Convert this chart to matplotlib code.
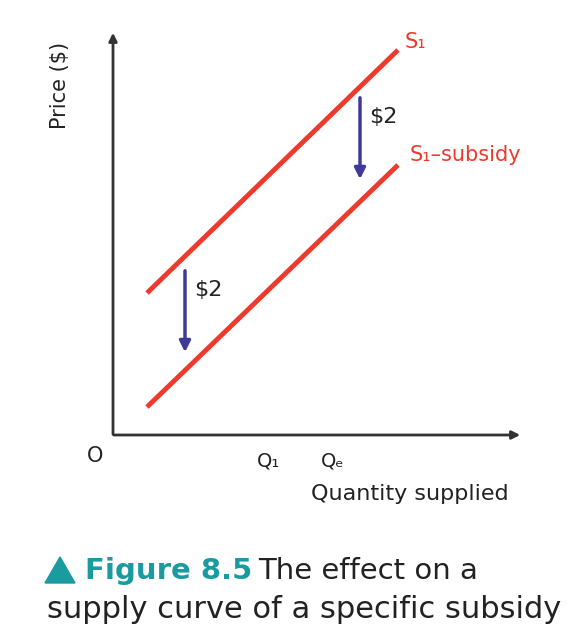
import matplotlib.pyplot as plt
from matplotlib.patches import Polygon

# data in pixel-like units of the original diagram (y grows downwards)
quantity = [147, 398]
supply = [293, 50]
supply_subsidy = [407, 165]
arrow_x = [185, 360]
arrow_top = [268, 95]
arrow_bottom = [355, 182]
subsidy_labels = ["$2", "$2"]

red = "#ee3a2c"
purple = "#3f3a99"
teal = "#1a9ba0"

fig = plt.figure(figsize=(5.77, 6.37), dpi=100)
ax = fig.add_axes([0, 0, 1, 1])
ax.set_xlim(0, 577)
ax.set_ylim(637, 0)
ax.axis("off")

# axes with arrow heads
ax.annotate("", xy=(113, 30), xytext=(113, 437),
            arrowprops=dict(arrowstyle="-|>", color="#333333", lw=2, mutation_scale=12))
ax.annotate("", xy=(523, 435), xytext=(111, 435),
            arrowprops=dict(arrowstyle="-|>", color="#333333", lw=2, mutation_scale=12))

ax.plot(quantity, supply, color=red, lw=3.5, solid_capstyle="butt")
ax.plot(quantity, supply_subsidy, color=red, lw=3.5, solid_capstyle="butt")

for x, t, b, lab in zip(arrow_x, arrow_top, arrow_bottom, subsidy_labels):
    ax.annotate("", xy=(x, b), xytext=(x, t),
                arrowprops=dict(arrowstyle="-|>", color=purple, lw=2.5, mutation_scale=16))
    ax.text(x + 9, t + 22, lab, fontsize=16, color="#222222", va="center")

ax.text(405, 42, "S₁", color=red, fontsize=15, va="center")
ax.text(410, 155, "S₁–subsidy", color=red, fontsize=15, va="center")
ax.text(95, 456, "O", fontsize=15, ha="center", va="center", color="#222222")
ax.text(268, 461, "Q₁", fontsize=14, ha="center", va="center", color="#222222")
ax.text(333, 461, "Qₑ", fontsize=14, ha="center", va="center", color="#222222")
ax.text(410, 494, "Quantity supplied", fontsize=16, ha="center", va="center", color="#222222")
ax.text(60, 85, "Price ($)", fontsize=15, rotation=90, ha="center", va="center", color="#222222")

# caption
ax.add_patch(Polygon([[45, 583], [75, 583], [60, 557]], closed=True, color=teal))
ax.text(85, 571, "Figure 8.5", fontsize=21, fontweight="bold", color=teal, va="center")
ax.text(258, 571, "The effect on a", fontsize=21, color="#222222", va="center")
ax.text(47, 610, "supply curve of a specific subsidy", fontsize=22, color="#222222", va="center")

fig.savefig("out.png", dpi=100)
